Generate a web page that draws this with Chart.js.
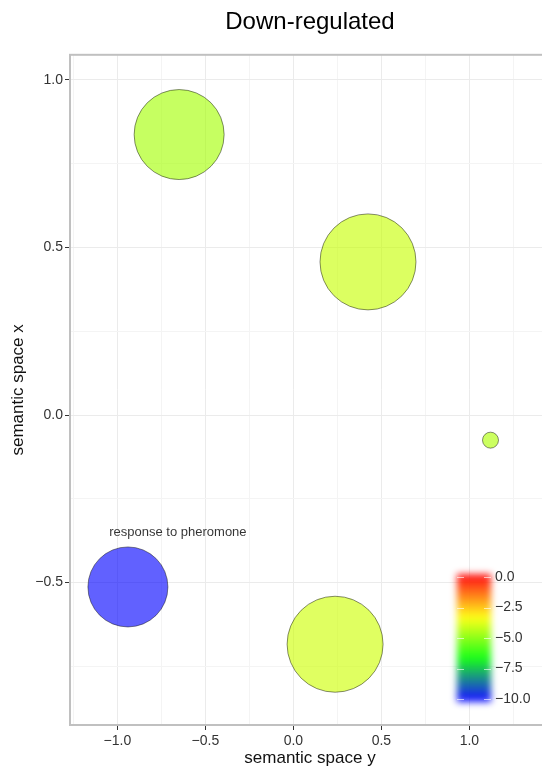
<!DOCTYPE html>
<html>
<head>
<meta charset="utf-8">
<script src="https://cdn.jsdelivr.net/npm/chart.js@4/dist/chart.umd.min.js"></script>
<style>
  html, body { margin: 0; padding: 0; overflow: hidden; background: #fff; width: 542px; height: 769px; }
  #wrap { width: 550px; height: 769px; }
</style>
</head>
<body>
<div id="wrap"><canvas id="c" width="550" height="769"></canvas></div>
<script>
// GO terms (REVIGO semantic space), down-regulated set
const termLabels = ['', '', '', 'response to pheromone', ''];
const spaceY = [-0.649, 0.424, 1.12, -0.94, 0.237];     // horizontal axis
const spaceX = [0.837, 0.457, -0.075, -0.513, -0.684];  // vertical axis
const plotSize = [4.46, 4.70, 1.50, 4.06, 4.70];        // log10 term size
const log10P = [-4.53, -4.08, -4.40, -10.0, -3.99];     // log10 p-value

// axis ticks
const xMajor = [-1.0, -0.5, 0.0, 0.5, 1.0];
const xMinor = [-1.25, -0.75, -0.25, 0.25, 0.75, 1.25];
const yMajor = [-0.5, 0.0, 0.5, 1.0];
const yMinor = [-0.75, -0.25, 0.25, 0.75];
const colourTicks = [0.0, -2.5, -5.0, -7.5, -10.0];

const FONT = '"Liberation Sans", Arial, sans-serif';
const near = (list, v) => list.some(t => Math.abs(t - v) < 1e-9);
const fmt = v => (v < 0 ? '\u2212' : '') + Math.abs(v).toFixed(1);

// blue -> green -> yellow -> red over log10 p in [-10, 0]
const gradStops = [
  { v: -10, c: [0, 0, 255] },
  { v: -20 / 3, c: [0, 255, 0] },
  { v: -10 / 3, c: [255, 255, 0] },
  { v: 0, c: [255, 0, 0] }
];
function colourFor(v) {
  v = Math.max(-10, Math.min(0, v));
  for (let i = 0; i < gradStops.length - 1; i++) {
    const a = gradStops[i], b = gradStops[i + 1];
    if (v <= b.v) {
      const t = (v - a.v) / (b.v - a.v);
      return a.c.map((x, k) => Math.round(x + (b.c[k] - x) * t));
    }
  }
  return gradStops[gradStops.length - 1].c;
}
const rgba = (c, a) => `rgba(${c[0]},${c[1]},${c[2]},${a})`;

// bubble radius from term size
const sizeMin = Math.min(...plotSize), sizeMax = Math.max(...plotSize);
const radius = s => 8 + (s - sizeMin) / (sizeMax - sizeMin) * 40;

const panelExtras = {
  id: 'panelExtras',
  afterDatasetsDraw(chart) {
    const { ctx, chartArea: ca, scales } = chart;
    ctx.save();
    // top panel border
    ctx.fillStyle = '#c0c0c0';
    ctx.fillRect(ca.left - 1, ca.top - 1, ca.right - ca.left + 1, 2);

    // term labels
    ctx.font = '13px ' + FONT;
    ctx.fillStyle = 'rgba(0,0,0,0.8)';
    ctx.textAlign = 'center';
    ctx.textBaseline = 'middle';
    termLabels.forEach((t, i) => {
      if (!t) return;
      const px = scales.x.getPixelForValue(spaceY[i]);
      const py = scales.y.getPixelForValue(spaceX[i]);
      ctx.fillText(t, px + 50, py - 55);
    });

    // colour bar
    const barRight = ca.right - 57, barLeft = barRight - 38;
    const vTop = ca.bottom - 148, vBottom = ca.bottom - 26;
    const yFor = v => vTop + (0 - v) / 10 * (vBottom - vTop);
    const g = ctx.createLinearGradient(0, vTop, 0, vBottom);
    for (let i = 0; i <= 40; i++) {
      const v = -i / 4;
      g.addColorStop(i / 40, rgba(colourFor(v), 0.9));
    }
    ctx.filter = 'blur(3.5px)';
    ctx.fillStyle = g;
    ctx.fillRect(barLeft + 2, vTop - 3, barRight - barLeft - 4, vBottom - vTop + 6);
    ctx.filter = 'none';
    ctx.strokeStyle = 'rgba(255,255,255,0.6)';
    ctx.lineWidth = 1;
    colourTicks.forEach(v => {
      const y = Math.round(yFor(v)) + 0.5;
      ctx.beginPath();
      ctx.moveTo(barLeft + 2, y); ctx.lineTo(barLeft + 9, y);
      ctx.moveTo(barRight - 9, y); ctx.lineTo(barRight - 2, y);
      ctx.stroke();
    });
    ctx.font = '14px ' + FONT;
    ctx.fillStyle = '#333';
    ctx.textAlign = 'left';
    colourTicks.forEach(v => ctx.fillText(fmt(v), barRight + 2, yFor(v)));
    ctx.restore();
  }
};

function axis(min, max, major, minor, title, isX) {
  return {
    type: 'linear',
    min, max,
    afterFit(s) { if (isX) s.height = 44; else s.width = 70; },
    afterBuildTicks(s) {
      s.ticks = [...minor, ...major].sort((a, b) => a - b).map(v => ({ value: v }));
    },
    ticks: {
      autoSkip: false, maxRotation: 0,
      padding: isX ? 3 : 2,
      color: '#333',
      font: { family: FONT, size: 14 },
      callback: v => near(major, v) ? fmt(v) : ''
    },
    grid: {
      color: c => near(major, c.tick.value) ? '#ebebeb' : '#f4f4f4',
      tickColor: c => near(major, c.tick.value) ? '#333' : 'rgba(0,0,0,0)',
      tickLength: 5,
      lineWidth: 1
    },
    border: { display: true, color: '#c0c0c0', width: 2 },
    title: {
      display: true, text: title, color: '#111',
      font: { family: FONT, size: 17 },
      padding: isX ? { top: 0, bottom: 0 } : { top: 8, bottom: 0 }
    }
  };
}

new Chart(document.getElementById('c'), {
  type: 'bubble',
  data: {
    datasets: [{
      data: spaceY.map((h, i) => ({ x: h, y: spaceX[i], r: radius(plotSize[i]) })),
      backgroundColor: log10P.map(v => rgba(colourFor(v), 0.62)),
      borderColor: 'rgba(0,0,0,0.45)',
      borderWidth: 1
    }]
  },
  options: {
    responsive: false,
    animation: false,
    layout: { padding: 0, autoPadding: false },
    scales: {
      x: axis(-1.269, 1.458, xMajor, xMinor, 'semantic space y', true),
      y: axis(-0.925, 1.075, yMajor, yMinor, 'semantic space x', false)
    },
    plugins: {
      legend: { display: false },
      tooltip: { enabled: false },
      title: {
        display: true, text: 'Down-regulated', fullSize: false,
        color: '#000', font: { family: FONT, size: 24, weight: 'normal' },
        padding: { top: 8, bottom: 18 }
      }
    }
  },
  plugins: [panelExtras]
});
</script>
</body>
</html>
